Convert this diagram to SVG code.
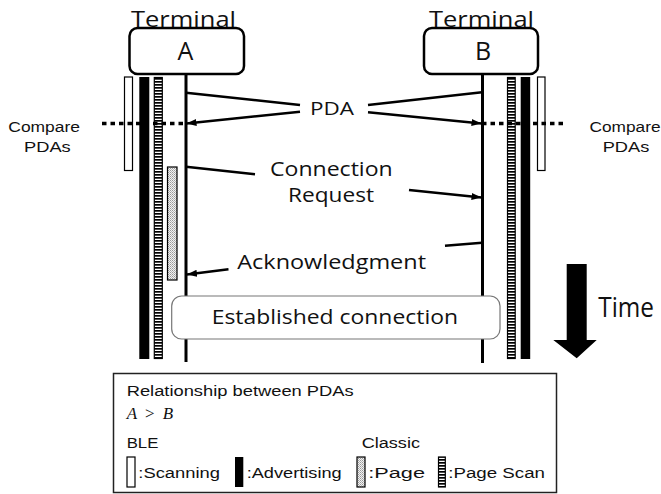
<svg xmlns="http://www.w3.org/2000/svg" width="661" height="494" viewBox="0 0 661 494">
<style>
.lbl{font-family:"Open Sans","DejaVu Sans",sans-serif;fill:#111}
.sm{font-family:"Liberation Sans",Arial,sans-serif;fill:#111}
.life{stroke:#000;stroke-width:3;fill:none}
.msg{stroke:#000;stroke-width:2.4;fill:none}
.arr{marker-end:url(#ah)}
.scan{fill:#fff;stroke:#000;stroke-width:1.2}
.adv{fill:#000}
.pscan{fill:url(#stripe);stroke:#000;stroke-width:1.2}
.page{fill:url(#dots);stroke:#000;stroke-width:1.2}
.dot{stroke:#000;stroke-width:3.5;stroke-dasharray:4.5 4;fill:none}
</style>
<defs>
<marker id="ah" markerUnits="userSpaceOnUse" markerWidth="11" markerHeight="8" refX="10" refY="4" orient="auto">
<path d="M0,0.5 L10,4 L0,7.5 Z" fill="#000"/>
</marker>
<pattern id="stripe" width="4" height="3" patternUnits="userSpaceOnUse">
<rect width="4" height="3" fill="#fff"/><rect width="4" height="1.7" fill="#000"/>
</pattern>
<pattern id="dots" width="2" height="2" patternUnits="userSpaceOnUse">
<rect width="2" height="2" fill="#f2f2f2"/><rect width="1" height="1" fill="#9a9a9a"/><rect x="1" y="1" width="1" height="1" fill="#b8b8b8"/>
</pattern>
</defs>

<g id="bars">
<rect class="scan" x="124.5" y="77" width="8" height="93.5"/>
<rect class="adv" x="139.3" y="77" width="10" height="282"/>
<rect class="pscan" x="154.3" y="77.5" width="8" height="281"/>
<rect class="page" x="167.5" y="167" width="9.5" height="113"/>
<rect class="pscan" x="507.5" y="77.5" width="7.7" height="281"/>
<rect class="adv" x="520.7" y="77" width="9.5" height="282"/>
<rect class="scan" x="537.5" y="77" width="7.5" height="93.5"/>
</g>

<g id="terminalA">
<text class="lbl" x="131" y="27" font-size="22.5" textLength="105" lengthAdjust="spacingAndGlyphs">Terminal</text>
<line class="life" x1="186" y1="74" x2="186" y2="362"/>
<rect x="129.5" y="28" width="114.5" height="46" rx="8" fill="#fff" stroke="#000" stroke-width="2.5"/>
<text class="lbl" x="185.5" y="60" font-size="25" text-anchor="middle">A</text>
</g>

<g id="terminalB">
<text class="lbl" x="429" y="27" font-size="22.5" textLength="105" lengthAdjust="spacingAndGlyphs">Terminal</text>
<line class="life" x1="482.5" y1="74" x2="482.5" y2="363"/>
<rect x="424" y="28" width="114" height="46" rx="8" fill="#fff" stroke="#000" stroke-width="2.5"/>
<text class="lbl" x="483" y="60" font-size="25" text-anchor="middle">B</text>
</g>

<g id="compare">
<line class="dot" x1="102" y1="123.5" x2="186" y2="123.5"/>
<line class="dot" x1="482" y1="123.5" x2="566" y2="123.5"/>
<text class="sm" x="8.3" y="132.3" font-size="15.5" textLength="71.7" lengthAdjust="spacingAndGlyphs">Compare</text>
<text class="sm" x="24" y="151.7" font-size="15.5" textLength="46.7" lengthAdjust="spacingAndGlyphs">PDAs</text>
<text class="sm" x="589.5" y="132.3" font-size="15.5" textLength="71" lengthAdjust="spacingAndGlyphs">Compare</text>
<text class="sm" x="602.7" y="151.7" font-size="15.5" textLength="46.6" lengthAdjust="spacingAndGlyphs">PDAs</text>
</g>

<g id="connectors">
<line class="msg" x1="186" y1="92.7" x2="300" y2="105"/>
<line class="msg arr" x1="300" y1="111.7" x2="186.5" y2="123.5"/>
<line class="msg" x1="368" y1="105" x2="482" y2="92.3"/>
<line class="msg arr" x1="368" y1="112.3" x2="481.5" y2="123.5"/>
<line class="msg" x1="186" y1="166.7" x2="255" y2="174.3"/>
<line class="msg arr" x1="409" y1="190" x2="481.5" y2="197.5"/>
<line class="msg" x1="482" y1="242.7" x2="445" y2="245.7"/>
<line class="msg arr" x1="228.5" y1="269.3" x2="187" y2="274.5"/>
</g>

<g id="labels">
<text class="lbl" x="310" y="115" font-size="19" textLength="44" lengthAdjust="spacingAndGlyphs">PDA</text>
<text class="lbl" x="270" y="176.3" font-size="20" textLength="122.7" lengthAdjust="spacingAndGlyphs">Connection</text>
<text class="lbl" x="288" y="201.7" font-size="20" textLength="86" lengthAdjust="spacingAndGlyphs">Request</text>
<text class="lbl" x="237.3" y="269.3" font-size="20" textLength="188.7" lengthAdjust="spacingAndGlyphs">Acknowledgment</text>
</g>

<g id="established">
<rect x="171.7" y="296" width="328.3" height="43" rx="10" fill="#fff" stroke="#777" stroke-width="1.2"/>
<text class="lbl" x="211.7" y="324" font-size="20" textLength="246.3" lengthAdjust="spacingAndGlyphs">Established connection</text>
</g>

<g id="time">
<polygon points="566.7,264 586.7,264 586.7,340 596.7,340 576.7,358.3 553.3,340 566.7,340" fill="#000"/>
<text class="lbl" x="598.3" y="316.7" font-size="28" textLength="55.7" lengthAdjust="spacingAndGlyphs">Time</text>
</g>

<g id="legend">
<rect x="113.5" y="373.5" width="443" height="119" fill="#fff" stroke="#222" stroke-width="1.5"/>
<text class="sm" x="126.7" y="396" font-size="15.5" textLength="227" lengthAdjust="spacingAndGlyphs">Relationship between PDAs</text>
<text x="126.7" y="419.3" font-size="17" font-style="italic" font-family="Liberation Serif,'Times New Roman',serif" fill="#111"><tspan>A</tspan><tspan dx="8" font-style="normal">&gt;</tspan><tspan dx="8">B</tspan></text>
<text class="sm" x="126.7" y="447.7" font-size="15.5" textLength="31.7" lengthAdjust="spacingAndGlyphs">BLE</text>
<text class="sm" x="361.7" y="447.7" font-size="15.5" textLength="58.3" lengthAdjust="spacingAndGlyphs">Classic</text>
<rect class="scan" x="127" y="457" width="8" height="30"/>
<text class="sm" x="138.3" y="478.3" font-size="15.5" textLength="81.7" lengthAdjust="spacingAndGlyphs">:Scanning</text>
<rect class="adv" x="235" y="457" width="8.3" height="30"/>
<text class="sm" x="246.7" y="478.3" font-size="15.5" textLength="95" lengthAdjust="spacingAndGlyphs">:Advertising</text>
<rect class="page" x="357" y="457" width="8" height="30"/>
<text class="sm" x="368.3" y="478.3" font-size="15.5" textLength="56.7" lengthAdjust="spacingAndGlyphs">:Page</text>
<rect class="pscan" x="438.5" y="457" width="6.8" height="30"/>
<text class="sm" x="448.3" y="478.3" font-size="15.5" textLength="96.7" lengthAdjust="spacingAndGlyphs">:Page Scan</text>
</g>
</svg>
